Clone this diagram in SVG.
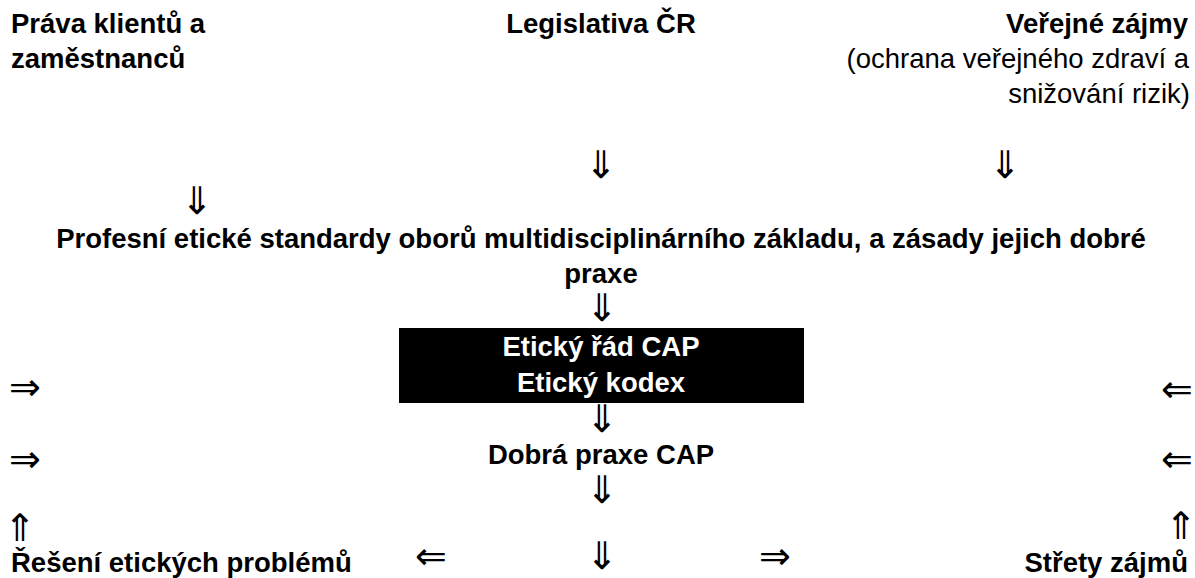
<svg xmlns="http://www.w3.org/2000/svg" width="1195" height="578" viewBox="0 0 1195 578">
<style>
text{font-family:"Liberation Sans",Arial,sans-serif;font-size:27.5px;fill:#000}
.b{font-weight:bold}
.r{font-weight:normal}
.m{text-anchor:middle}
.e{text-anchor:end}
.w{fill:#fff}
.arr{font-family:"DejaVu Sans",sans-serif;font-weight:200;font-size:38px;text-anchor:middle;fill:#000}
</style>
<rect width="1195" height="578" fill="#fff"/>
<g id="prava">
<text class="b" x="11" y="33">Práva klientů a</text>
<text class="b" x="11" y="68">zaměstnanců</text>
</g>
<g id="legislativa">
<text class="b m" x="601" y="33">Legislativa ČR</text>
</g>
<g id="verejne">
<text class="b e" x="1188" y="33">Veřejné zájmy</text>
<text class="r e" x="1189" y="68">(ochrana veřejného zdraví a</text>
<text class="r e" x="1190" y="103">snižování rizik)</text>
</g>
<g id="standardy">
<text class="b m" x="601" y="248">Profesní etické standardy oborů multidisciplinárního základu, a zásady jejich dobré</text>
<text class="b m" x="601" y="283">praxe</text>
</g>
<g id="eticky-rad">
<rect x="399" y="328" width="405" height="75" fill="#000"/>
<text class="b m w" x="601" y="356">Etický řád CAP</text>
<text class="b m w" x="601" y="392">Etický kodex</text>
</g>
<g id="dobra-praxe">
<text class="b m" x="601" y="464">Dobrá praxe CAP</text>
</g>
<g id="reseni">
<text class="b" x="11" y="572">Řešení etických problémů</text>
</g>
<g id="strety">
<text class="b e" x="1188" y="572">Střety zájmů</text>
</g>
<g id="connectors">
<text class="arr" x="601" y="178">⇓</text>
<text class="arr" x="1004.5" y="178">⇓</text>
<text class="arr" x="197" y="214">⇓</text>
<text class="arr" x="601.5" y="321">⇓</text>
<text class="arr" x="601.5" y="432">⇓</text>
<text class="arr" x="601.5" y="503">⇓</text>
<text class="arr" x="601.5" y="569">⇓</text>
<text class="arr" x="24.5" y="400">⇒</text>
<text class="arr" x="24.5" y="472">⇒</text>
<text class="arr" x="774.5" y="569">⇒</text>
<text class="arr" x="1177" y="402">⇐</text>
<text class="arr" x="1177" y="472">⇐</text>
<text class="arr" x="430.5" y="569">⇐</text>
<text class="arr" x="20" y="541">⇑</text>
<text class="arr" x="1180.5" y="539">⇑</text>
</g>
</svg>
